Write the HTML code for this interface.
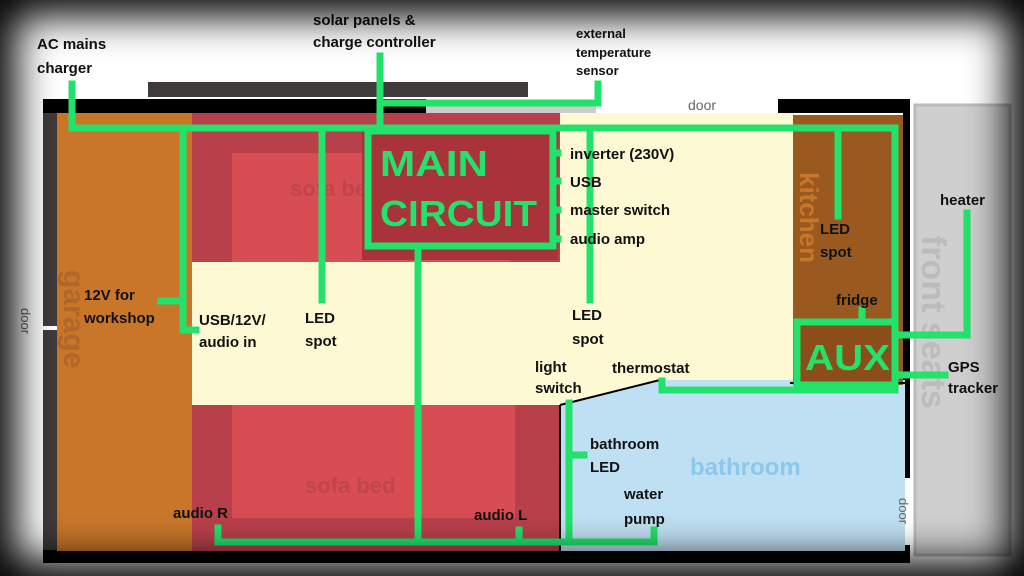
<!DOCTYPE html>
<html><head><meta charset="utf-8"><style>
html,body{margin:0;padding:0;background:#000}
#w{position:relative;width:1024px;height:576px;overflow:hidden;background:#fff}
svg{position:absolute;left:0;top:0}
#v{position:absolute;left:0;top:0;width:1024px;height:576px;box-shadow:inset 0 0 40px 16px #000;pointer-events:none}
text{font-family:"Liberation Sans",sans-serif;font-weight:bold}
</style></head><body><div id="w">
<svg width="1024" height="576" viewBox="0 0 1024 576">
<rect x="148" y="82" width="380" height="15" fill="#403a3a"/>
<rect x="43" y="99" width="383" height="14" fill="#000"/>
<rect x="426" y="106" width="170" height="7" fill="#ccc"/>
<rect x="778" y="99" width="132" height="14" fill="#000"/>
<rect x="43" y="113" width="14" height="213" fill="#403a3a"/>
<rect x="43" y="330" width="14" height="222" fill="#403a3a"/>
<rect x="43" y="550" width="867" height="13" fill="#000"/>
<rect x="903" y="113" width="7" height="365" fill="#000"/>
<rect x="903" y="545" width="7" height="8" fill="#000"/>
<rect x="915" y="105" width="95" height="450" fill="#cfcfcf" stroke="#bbb" stroke-width="3"/>
<text x="0" y="0" transform="translate(922,235) rotate(90)" font-size="34" fill="#bcbcbc">front seats</text>
<rect x="192" y="113" width="603" height="292" fill="#fdf9d2"/>
<rect x="57" y="113" width="135" height="438" fill="#c97629"/>
<text transform="translate(64,270) rotate(90)" font-size="30" fill="#b0672a">garage</text>
<rect x="192" y="113" width="368" height="149" fill="#b8404a"/>
<rect x="232" y="153" width="278" height="109" fill="#d84c53"/>
<text x="290" y="196" font-size="22" fill="#c0454c">sofa bed</text>
<rect x="192" y="405" width="368" height="146" fill="#b8404a"/>
<rect x="232" y="405" width="283" height="113" fill="#d84c53"/>
<text x="305" y="493" font-size="22" fill="#c0454c">sofa bed</text>
<rect x="362" y="125" width="196" height="135" fill="#a8333a"/>
<polygon points="560,405 660,380 905,380 905,551 560,551" fill="#bfe0f2"/>
<line x1="560" y1="405" x2="660" y2="380" stroke="#000" stroke-width="2"/>
<line x1="560" y1="405" x2="560" y2="551" stroke="#000" stroke-width="2"/>
<text x="690" y="475" font-size="24" fill="#8cc8ec">bathroom</text>
<rect x="793" y="115" width="110" height="270" fill="#9a5a1f"/>
<text transform="translate(800,172) rotate(90)" font-size="26" fill="#c7772a">kitchen</text>
<rect x="796" y="321" width="100" height="64" fill="#8b4e1a"/>
<line x1="790" y1="383" x2="905" y2="383" stroke="#000" stroke-width="2"/>
<text x="688" y="110" font-size="14" fill="#666" style="font-weight:normal">door</text>
<text transform="translate(21,308) rotate(90)" font-size="13" fill="#666" style="font-weight:normal">door</text>
<text transform="translate(899,498) rotate(90)" font-size="13" fill="#666" style="font-weight:normal">door</text>
<g stroke="#22e26b" stroke-width="7" fill="none" stroke-linecap="square">
<path d="M72 84 V128 H895 V390 H662 V381"/>
<path d="M380 56 V128"/>
<path d="M383 103 H598 V84"/>
<path d="M183 128 V330 H196"/>
<path d="M161 301 H183"/>
<path d="M322 128 V300"/>
<path d="M590 128 V300"/>
<path d="M838 128 V216"/>
<rect x="368" y="131" width="185" height="115"/>
<path d="M553 153 H558 M553 181 H558 M553 210 H558 M553 239 H558"/>
<path d="M418 246 V542"/>
<path d="M218 528 V542 H654 V530"/>
<path d="M519 530 V542"/>
<path d="M569 403 V542"/>
<path d="M569 455 H584"/>
<rect x="797" y="322" width="98" height="63"/>
<path d="M862 310 V322"/>
<path d="M895 335 H967 V213"/>
<path d="M895 375 H945"/>
</g>
<text x="380" y="176" font-size="36" fill="#22e26b" textLength="108" lengthAdjust="spacingAndGlyphs">MAIN</text>
<text x="380" y="226" font-size="36" fill="#22e26b" textLength="157" lengthAdjust="spacingAndGlyphs">CIRCUIT</text>
<text x="805" y="370" font-size="36" fill="#22e26b" textLength="85" lengthAdjust="spacingAndGlyphs">AUX</text>
<g font-size="15" fill="#111">
<text x="37" y="49">AC mains</text><text x="37" y="73">charger</text>
<text x="313" y="25">solar panels &amp;</text><text x="313" y="47">charge controller</text>
<text x="576" y="38" font-size="13">external</text><text x="576" y="57" font-size="13">temperature</text><text x="576" y="75" font-size="13">sensor</text>
<text x="570" y="159">inverter (230V)</text>
<text x="570" y="187">USB</text>
<text x="570" y="215">master switch</text>
<text x="570" y="244">audio amp</text>
<text x="820" y="234">LED</text><text x="820" y="257">spot</text>
<text x="940" y="205">heater</text>
<text x="836" y="305">fridge</text>
<text x="948" y="372">GPS</text><text x="948" y="393">tracker</text>
<text x="84" y="300">12V for</text><text x="84" y="323">workshop</text>
<text x="199" y="325">USB/12V/</text><text x="199" y="347">audio in</text>
<text x="305" y="323">LED</text><text x="305" y="346">spot</text>
<text x="572" y="320">LED</text><text x="572" y="344">spot</text>
<text x="535" y="372">light</text><text x="535" y="393">switch</text>
<text x="612" y="373">thermostat</text>
<text x="590" y="449">bathroom</text><text x="590" y="472">LED</text>
<text x="624" y="499">water</text><text x="624" y="524">pump</text>
<text x="173" y="518">audio R</text>
<text x="474" y="520">audio L</text>
</g>
</svg>
<div id="v"></div>
</div></body></html>
